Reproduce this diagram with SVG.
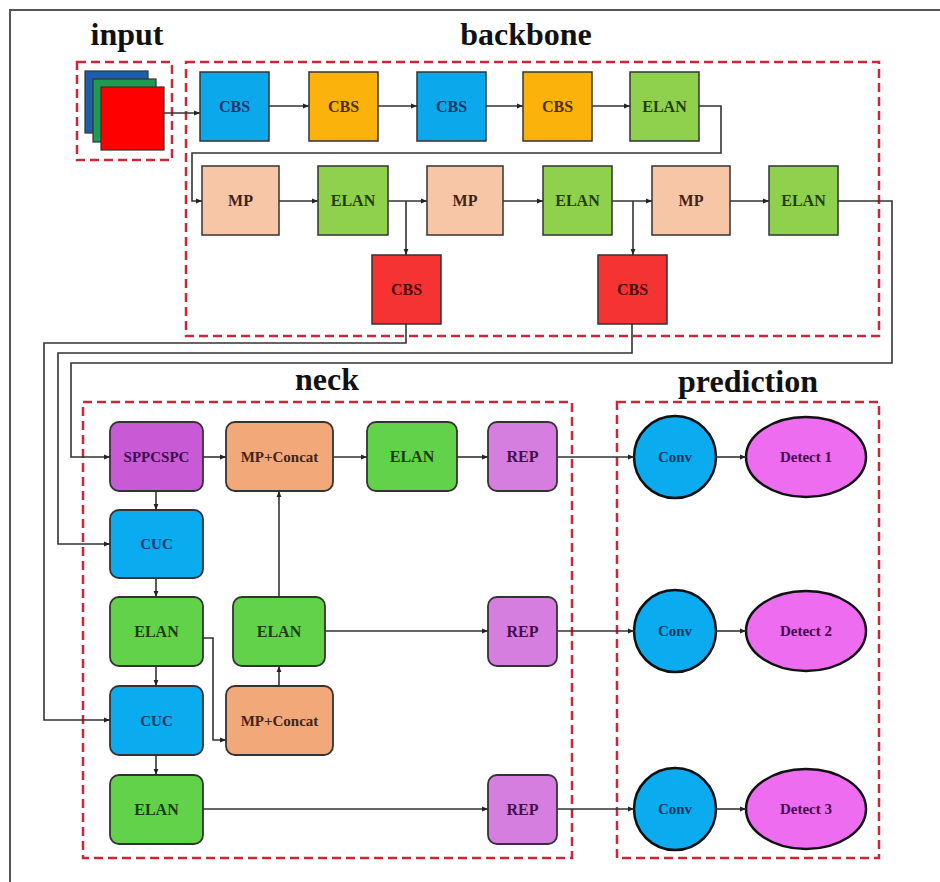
<svg xmlns="http://www.w3.org/2000/svg" width="940" height="882" viewBox="0 0 940 882">
<defs>
<marker id="ah" viewBox="0 0 10 10" refX="10" refY="5" markerWidth="6" markerHeight="6" orient="auto" markerUnits="userSpaceOnUse">
<path d="M0,1 L10,5 L0,9 z" fill="#222"/>
</marker>
<style>
.frame{fill:none;stroke:#555;stroke-width:2}
.dash{fill:none;stroke:#c8283a;stroke-width:2.5;stroke-dasharray:9 5}
.title{font-family:"Liberation Serif","Times New Roman",serif;font-weight:bold;font-size:32px;fill:#111;text-anchor:middle}
.lbl{font-family:"Liberation Serif","Times New Roman",serif;font-weight:bold;font-size:16px;text-anchor:middle}
.nl{font-family:"Liberation Serif","Times New Roman",serif;font-weight:bold;font-size:15px;text-anchor:middle}
.box{stroke:#333;stroke-width:1.5}
.rbox{stroke:#333;stroke-width:1.8}
.cbsb{fill:#0ba9ec}
.cbso{fill:#fbb20a}
.elanb{fill:#8fd04c}
.mp{fill:#f6c6a6}
.cbsr{fill:#f53333}
.elann{fill:#62d24a}
.mpc{fill:#f2a878}
.spp{fill:#c85ad6}
.cuc{fill:#0aabef}
.rep{fill:#d67ee0}
.conv{fill:#0aabef;stroke:#111;stroke-width:2.5}
.det{fill:#ee6cf0;stroke:#111;stroke-width:2.5}
.ln{fill:none;stroke:#333;stroke-width:1.6}
.ar{fill:none;stroke:#333;stroke-width:1.6;marker-end:url(#ah)}
</style>
</defs>
<rect width="940" height="882" fill="#fff"/>
<path class="frame" d="M10,882 V10 H940"/>

<text class="title" x="127" y="45">input</text>
<text class="title" x="526" y="45">backbone</text>
<text class="title" x="327" y="390">neck</text>
<text class="title" x="748" y="392">prediction</text>

<rect class="dash" x="77" y="62" width="95" height="98"/>
<rect class="dash" x="186" y="62" width="693" height="274"/>
<rect class="dash" x="83" y="402" width="489" height="456"/>
<rect class="dash" x="617" y="402" width="262" height="456"/>

<g id="input">
<rect x="85" y="71" width="63" height="62" fill="#1d5ea8" stroke="#333" stroke-width="1.2"/>
<rect x="93" y="79" width="63" height="63" fill="#1f9a50" stroke="#333" stroke-width="1.2"/>
<rect x="101" y="87" width="63" height="63" fill="#ff0000" stroke="#333" stroke-width="1.2"/>
</g>

<g id="cbs1"><rect class="box cbsb" x="200" y="72" width="69" height="69"/><text class="lbl" x="234.5" y="112" fill="#1b3565">CBS</text></g>
<g id="cbs2"><rect class="box cbso" x="309" y="72" width="69" height="69"/><text class="lbl" x="343.5" y="112" fill="#4a3000">CBS</text></g>
<g id="cbs3"><rect class="box cbsb" x="417" y="72" width="69" height="69"/><text class="lbl" x="451.5" y="112" fill="#1b3565">CBS</text></g>
<g id="cbs4"><rect class="box cbso" x="523" y="72" width="69" height="69"/><text class="lbl" x="557.5" y="112" fill="#4a3000">CBS</text></g>
<g id="elan1"><rect class="box elanb" x="630" y="72" width="69" height="69"/><text class="lbl" x="664.5" y="112" fill="#1f3d10">ELAN</text></g>

<g id="mp1"><rect class="box mp" x="202" y="166" width="77" height="69"/><text class="lbl" x="240.5" y="206" fill="#3f2418">MP</text></g>
<g id="elan2"><rect class="box elanb" x="318" y="166" width="70" height="69"/><text class="lbl" x="353" y="206" fill="#1f3d10">ELAN</text></g>
<g id="mp2"><rect class="box mp" x="427" y="166" width="76" height="69"/><text class="lbl" x="465" y="206" fill="#3f2418">MP</text></g>
<g id="elan3"><rect class="box elanb" x="543" y="166" width="69" height="69"/><text class="lbl" x="577.5" y="206" fill="#1f3d10">ELAN</text></g>
<g id="mp3"><rect class="box mp" x="652" y="166" width="78" height="69"/><text class="lbl" x="691" y="206" fill="#3f2418">MP</text></g>
<g id="elan4"><rect class="box elanb" x="769" y="166" width="69" height="69"/><text class="lbl" x="803.5" y="206" fill="#1f3d10">ELAN</text></g>

<g id="cbsA"><rect class="box cbsr" x="372" y="255" width="69" height="69"/><text class="lbl" x="406.5" y="295" fill="#4a0808">CBS</text></g>
<g id="cbsB"><rect class="box cbsr" x="598" y="255" width="69" height="69"/><text class="lbl" x="632.5" y="295" fill="#4a0808">CBS</text></g>

<g id="sppcspc"><rect class="rbox spp" x="110" y="422" width="93" height="69" rx="9"/><text class="nl" x="156.5" y="462" fill="#3e0a4e">SPPCSPC</text></g>
<g id="mpc1"><rect class="rbox mpc" x="226" y="422" width="107" height="69" rx="9"/><text class="nl" x="279.5" y="462" fill="#3f2418">MP+Concat</text></g>
<g id="elanN1"><rect class="rbox elann" x="367" y="422" width="90" height="69" rx="9"/><text class="lbl" x="412" y="462" fill="#1a3d10">ELAN</text></g>
<g id="rep1"><rect class="rbox rep" x="488" y="422" width="69" height="69" rx="9"/><text class="lbl" x="522.5" y="462" fill="#45104a">REP</text></g>

<g id="cuc1"><rect class="rbox cuc" x="110" y="510" width="93" height="68" rx="9"/><text class="nl" x="156.5" y="549" fill="#1b3565">CUC</text></g>
<g id="elanN2"><rect class="rbox elann" x="110" y="597" width="93" height="69" rx="9"/><text class="lbl" x="156.5" y="637" fill="#1a3d10">ELAN</text></g>
<g id="elanN3"><rect class="rbox elann" x="233" y="597" width="92" height="69" rx="9"/><text class="lbl" x="279" y="637" fill="#1a3d10">ELAN</text></g>
<g id="rep2"><rect class="rbox rep" x="488" y="597" width="69" height="69" rx="9"/><text class="lbl" x="522.5" y="637" fill="#45104a">REP</text></g>

<g id="cuc2"><rect class="rbox cuc" x="110" y="686" width="93" height="69" rx="9"/><text class="nl" x="156.5" y="726" fill="#1b3565">CUC</text></g>
<g id="mpc2"><rect class="rbox mpc" x="226" y="686" width="107" height="69" rx="9"/><text class="nl" x="279.5" y="726" fill="#3f2418">MP+Concat</text></g>

<g id="elanN4"><rect class="rbox elann" x="110" y="775" width="93" height="69" rx="9"/><text class="lbl" x="156.5" y="815" fill="#1a3d10">ELAN</text></g>
<g id="rep3"><rect class="rbox rep" x="488" y="775" width="69" height="69" rx="9"/><text class="lbl" x="522.5" y="815" fill="#45104a">REP</text></g>

<g id="conv1"><circle class="conv" cx="675" cy="457" r="41"/><text class="nl" x="675" y="462" fill="#1b3565">Conv</text></g>
<g id="det1"><ellipse class="det" cx="806" cy="457" rx="60" ry="40"/><text class="nl" x="806" y="462" fill="#4a0a4e">Detect 1</text></g>
<g id="conv2"><circle class="conv" cx="675" cy="631" r="41"/><text class="nl" x="675" y="636" fill="#1b3565">Conv</text></g>
<g id="det2"><ellipse class="det" cx="806" cy="631" rx="60" ry="40"/><text class="nl" x="806" y="636" fill="#4a0a4e">Detect 2</text></g>
<g id="conv3"><circle class="conv" cx="675" cy="809" r="41"/><text class="nl" x="675" y="814" fill="#1b3565">Conv</text></g>
<g id="det3"><ellipse class="det" cx="806" cy="809" rx="60" ry="40"/><text class="nl" x="806" y="814" fill="#4a0a4e">Detect 3</text></g>

<g id="connectors">
<path class="ar" d="M164,113 H200"/>
<path class="ar" d="M269,106 H309"/>
<path class="ar" d="M378,106 H417"/>
<path class="ar" d="M486,106 H523"/>
<path class="ar" d="M592,106 H630"/>
<path class="ar" d="M699,106 H721 V153 H192 V201 H202"/>
<path class="ar" d="M279,201 H318"/>
<path class="ar" d="M388,201 H427"/>
<path class="ar" d="M406,201 V255"/>
<path class="ar" d="M503,201 H543"/>
<path class="ar" d="M612,201 H652"/>
<path class="ar" d="M633,201 V255"/>
<path class="ar" d="M730,201 H769"/>
<path class="ar" d="M838,201 H892 V363 H71 V457 H110"/>
<path class="ar" d="M406,324 V343 H44 V720 H110"/>
<path class="ar" d="M632,324 V353 H58 V544 H110"/>
<path class="ar" d="M203,457 H226"/>
<path class="ar" d="M333,457 H367"/>
<path class="ar" d="M457,457 H488"/>
<path class="ar" d="M557,457 H634"/>
<path class="ar" d="M716,457 H746"/>
<path class="ar" d="M156,491 V510"/>
<path class="ar" d="M156,578 V597"/>
<path class="ar" d="M156,666 V686"/>
<path class="ar" d="M156,755 V775"/>
<path class="ar" d="M203,638 H213 V740 H226"/>
<path class="ar" d="M279,686 V666"/>
<path class="ar" d="M279,597 V491"/>
<path class="ar" d="M325,631 H488"/>
<path class="ar" d="M557,631 H634"/>
<path class="ar" d="M716,631 H746"/>
<path class="ar" d="M203,809 H488"/>
<path class="ar" d="M557,809 H634"/>
<path class="ar" d="M716,809 H746"/>
</g>
</svg>
